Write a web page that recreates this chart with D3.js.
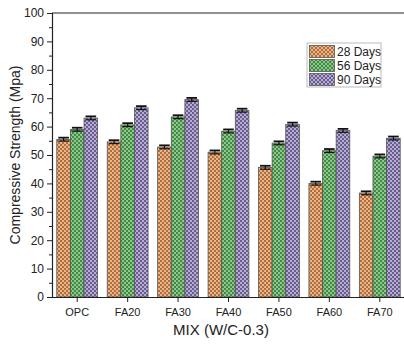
<!DOCTYPE html>
<html>
<head>
<meta charset="utf-8">
<script src="https://cdn.jsdelivr.net/npm/d3@7"></script>
<style>
  html, body { margin: 0; padding: 0; background: #fff; }
  svg text { font-family: "Liberation Sans", Arial, sans-serif; fill: #222; }
</style>
</head>
<body>
<svg id="chart" width="404" height="344"></svg>
<script>
// Compressive strength of mixes at W/C 0.3
const mixes = ["OPC", "FA20", "FA30", "FA40", "FA50", "FA60", "FA70"];
const ages = ["28 Days", "56 Days", "90 Days"];
const days28 = [55.5, 54.6, 52.8, 51.0, 45.6, 40.0, 36.6];
const days56 = [59.0, 60.6, 63.4, 58.4, 54.2, 51.5, 49.6];
const days90 = [63.0, 66.6, 69.5, 65.7, 60.8, 58.6, 55.9];
const errors = [0.6, 0.6, 0.6, 0.6, 0.6, 0.6, 0.6];
const yTicks = [0, 10, 20, 30, 40, 50, 60, 70, 80, 90, 100];

const seriesValues = [days28, days56, days90];
const light = ["#f4b27c", "#86cc86", "#b6a9dc"];
const dark = ["#8c5a36", "#376c37", "#4f4566"];

const svg = d3.select("#chart");
const mLeft = 52, mRight = 405, mTop = 13, mBottom = 297;

const x = d3.scaleBand().domain(mixes).range([mLeft, mRight]).paddingInner(0.19).paddingOuter(0.095);
const xs = d3.scaleBand().domain(ages).range([0, x.bandwidth()]);
const y = d3.scaleLinear().domain([0, 100]).range([mBottom, mTop]);

// checkered fill patterns
const defs = svg.append("defs");
ages.forEach((a, i) => {
  const p = defs.append("pattern")
    .attr("id", "pat" + i).attr("patternUnits", "userSpaceOnUse")
    .attr("width", 4).attr("height", 4);
  p.append("rect").attr("width", 4).attr("height", 4).attr("fill", light[i]);
  p.append("rect").attr("x", 0).attr("y", 0).attr("width", 2).attr("height", 2).attr("fill", dark[i]).attr("opacity", 0.75);
  p.append("rect").attr("x", 2).attr("y", 2).attr("width", 2).attr("height", 2).attr("fill", dark[i]).attr("opacity", 0.75);
});

// bars
const rows = [];
mixes.forEach((m, j) => ages.forEach((a, i) => rows.push({ mix: m, age: a, i, v: seriesValues[i][j], e: errors[j] })));

svg.append("g").selectAll("rect").data(rows).join("rect")
  .attr("x", d => x(d.mix) + xs(d.age))
  .attr("y", d => y(d.v))
  .attr("width", xs.bandwidth())
  .attr("height", d => y(0) - y(d.v))
  .attr("fill", d => `url(#pat${d.i})`)
  .attr("stroke", "#555").attr("stroke-width", 0.8);

// error bars
const eb = svg.append("g").attr("stroke", "#111").attr("stroke-width", 1.2);
rows.forEach(d => {
  const cx = x(d.mix) + xs(d.age) + xs.bandwidth() / 2;
  const hw = xs.bandwidth() / 2 - 1.5;
  eb.append("line").attr("x1", cx).attr("x2", cx).attr("y1", y(d.v + d.e)).attr("y2", y(d.v - d.e));
  eb.append("line").attr("x1", cx - hw).attr("x2", cx + hw).attr("y1", y(d.v + d.e)).attr("y2", y(d.v + d.e)).attr("stroke-width", 1.8);
  eb.append("line").attr("x1", cx - hw).attr("x2", cx + hw).attr("y1", y(d.v - d.e)).attr("y2", y(d.v - d.e));
});

// y axis with minor ticks
const yAxis = svg.append("g").attr("transform", `translate(${mLeft},0)`)
  .call(d3.axisLeft(y).tickValues(yTicks).tickSize(5).tickPadding(3));
yAxis.selectAll("text").attr("font-size", 12);
svg.append("g").attr("transform", `translate(${mLeft},0)`)
  .call(d3.axisLeft(y).tickValues(d3.range(5, 100, 10)).tickSize(3).tickFormat(""))
  .call(g => g.select(".domain").remove());

// x axis
const xAxis = svg.append("g").attr("transform", `translate(0,${mBottom})`)
  .call(d3.axisBottom(x).tickSize(5).tickPadding(6).tickSizeOuter(0));
xAxis.selectAll("text").attr("font-size", 11);

svg.selectAll(".domain").attr("stroke", "#222").attr("stroke-width", 1.2);
svg.selectAll(".tick line").attr("stroke", "#222");

// top frame line
svg.append("line").attr("x1", mLeft).attr("x2", mRight).attr("y1", mTop).attr("y2", mTop)
  .attr("stroke", "#222").attr("stroke-width", 1.2);

// axis titles
svg.append("text").attr("x", 221).attr("y", 335).attr("text-anchor", "middle")
  .attr("font-size", 15).text("MIX (W/C-0.3)");
svg.append("text").attr("transform", `translate(20,${(mTop + mBottom) / 2}) rotate(-90)`)
  .attr("text-anchor", "middle").attr("font-size", 14).text("Compressive Strength (Mpa)");

// legend
const lg = svg.append("g").attr("transform", "translate(307,43)");
lg.append("rect").attr("width", 74).attr("height", 44).attr("fill", "#fff").attr("stroke", "#bbb");
ages.forEach((a, i) => {
  lg.append("rect").attr("x", 2.5).attr("y", 2.5 + i * 14).attr("width", 25).attr("height", 12)
    .attr("fill", `url(#pat${i})`).attr("stroke", "#555").attr("stroke-width", 0.8);
  lg.append("text").attr("x", 30).attr("y", 13 + i * 14).attr("font-size", 12).text(a);
});
</script>
</body>
</html>
